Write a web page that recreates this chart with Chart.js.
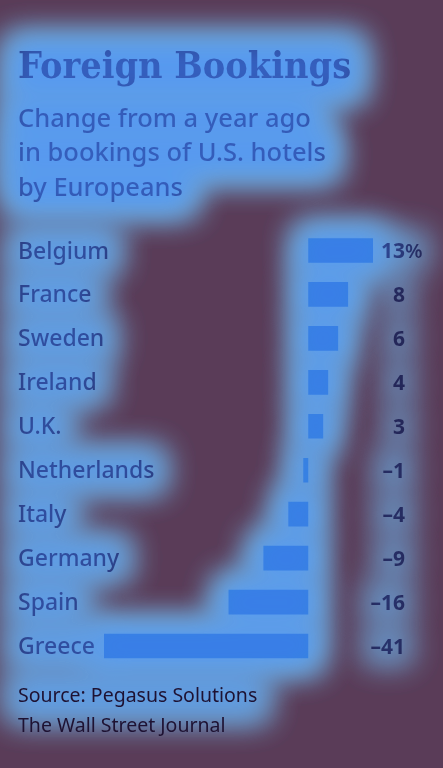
<!DOCTYPE html>
<html>
<head>
<meta charset="utf-8">
<script src="https://cdn.jsdelivr.net/npm/chart.js@4.4.1/dist/chart.umd.min.js"></script>
<style>
  html, body { margin: 0; padding: 0; background: #5a3c58; }
  #wrap { width: 443px; height: 768px; position: relative; }
</style>
</head>
<body>
<div id="wrap"><canvas id="chart-bookings"></canvas></div>
<script>
const countries = ['Belgium', 'France', 'Sweden', 'Ireland', 'U.K.', 'Netherlands', 'Italy', 'Germany', 'Spain', 'Greece']
const changes = [13, 8, 6, 4, 3, -1, -4, -9, -16, -41]
const titleText = 'Foreign Bookings'
const subtitleLines = ['Change from a year ago', 'in bookings of U.S. hotels', 'by Europeans']
const sourceLines = ['Source: Pegasus Solutions', 'The Wall Street Journal']

const INK = '#1e1232'
const BAR = '#318ad3'
const GLOW_UNDER = '#a2f6f2'
const GLOW_OVER = '#3d7aef'
const SANS = '"Noto Sans", "Open Sans", sans-serif'
const LABEL_FONT = '500 23px ' + SANS
const VALUE_FONT = 'bold 21px ' + SANS
const SOURCE_FONT = '19.5px ' + SANS

function fmt (v) {
  return v < 0 ? '\u2013' + Math.abs(v) : String(v)
}

// country names, left-aligned at the start of the y axis box
const countryLabels = {
  id: 'countryLabels',
  afterDatasetsDraw (chart) {
    const ctx = chart.ctx
    const ys = chart.scales.y
    ctx.save()
    ctx.font = LABEL_FONT
    ctx.fillStyle = INK
    ctx.textBaseline = 'middle'
    ctx.textAlign = 'left'
    countries.forEach((name, i) => ctx.fillText(name, ys.left, ys.getPixelForValue(i) + 1.5))
    ctx.restore()
  },
}

// value column on the right, first one carries the % sign
const valueLabels = {
  id: 'valueLabels',
  afterDatasetsDraw (chart) {
    const ctx = chart.ctx
    const x = chart.chartArea.right + 32
    ctx.save()
    ctx.font = VALUE_FONT
    ctx.fillStyle = INK
    ctx.textBaseline = 'middle'
    chart.getDatasetMeta(0).data.forEach((bar, i) => {
      ctx.textAlign = 'right'
      ctx.fillText(fmt(changes[i]), x, bar.y + 1.5)
      if (i === 0) {
        ctx.textAlign = 'left'
        ctx.font = '600 20px ' + SANS
        ctx.fillText('%', x, bar.y + 1.5)
        ctx.font = VALUE_FONT
      }
    })
    ctx.restore()
  },
}

const sourceNote = {
  id: 'sourceNote',
  afterDraw (chart) {
    const ctx = chart.ctx
    ctx.save()
    ctx.font = SOURCE_FONT
    ctx.fillStyle = INK
    ctx.textBaseline = 'middle'
    ctx.textAlign = 'left'
    sourceLines.forEach((line, i) => {
      ctx.fillText(line, chart.scales.y.left, chart.chartArea.bottom + 28 + i * 30)
    })
    ctx.restore()
  },
}

function buildGlowMask (chart) {
  const dpr = chart.currentDevicePixelRatio
  const mask = document.createElement('canvas')
  mask.width = chart.canvas.width
  mask.height = chart.canvas.height
  const o = mask.getContext('2d')
  o.scale(dpr, dpr)
  o.filter = 'blur(15px)'
  const box = (x1, y1, x2, y2, pad, alpha) => {
    o.globalAlpha = alpha
    o.fillStyle = '#fff'
    o.beginPath()
    o.roundRect(x1 - pad, y1 - pad, x2 - x1 + pad * 2, y2 - y1 + pad * 2, pad)
    o.fill()
  }

  // title + subtitle lines
  chart.boxes.filter(b => b.options && b.options.text !== undefined && b.options.display)
    .forEach(b => {
      const lines = [].concat(b.options.text)
      const f = Chart.helpers.toFont(b.options.font)
      const pad = Chart.helpers.toPadding(b.options.padding)
      o.font = f.string
      lines.forEach((line, i) => {
        const cy = b.top + pad.top + (i + 0.5) * f.lineHeight
        const w = o.measureText(line).width
        box(b.left, cy - f.size * 0.55, b.left + w, cy + f.size * 0.55, 14, 1)
      })
    })

  const ys = chart.scales.y
  const bars = chart.getDatasetMeta(0).data
  o.font = LABEL_FONT
  bars.forEach((bar, i) => {
    const x1 = Math.min(bar.x, bar.base)
    const x2 = Math.max(bar.x, bar.base)
    box(x1, bar.y - bar.height / 2, x2, bar.y + bar.height / 2, 15, 1)
    const w = o.measureText(countries[i]).width
    box(ys.left, bar.y - 12, ys.left + w, bar.y + 12, 11, 0.85)
  })

  o.font = VALUE_FONT
  const vx = chart.chartArea.right + 32
  bars.forEach((bar, i) => {
    const w = o.measureText(fmt(changes[i])).width
    box(vx - w, bar.y - 12, vx + (i === 0 ? 16 : 0), bar.y + 12, 7, 0.55)
  })

  o.font = SOURCE_FONT
  const sw = o.measureText(sourceLines[0]).width
  box(ys.left, chart.chartArea.bottom + 16, ys.left + sw, chart.chartArea.bottom + 42, 12, 0.8)
  return mask
}

function paintMask (chart, mask, color, alpha) {
  const tint = document.createElement('canvas')
  tint.width = mask.width
  tint.height = mask.height
  const t = tint.getContext('2d')
  t.drawImage(mask, 0, 0)
  t.globalCompositeOperation = 'source-in'
  t.fillStyle = color
  t.fillRect(0, 0, tint.width, tint.height)
  const ctx = chart.ctx
  ctx.save()
  ctx.globalAlpha = alpha
  ctx.drawImage(tint, 0, 0, chart.width, chart.height)
  ctx.restore()
}

// blue attention haze: a pale layer under everything, a blue tint over it
const glowOverlay = {
  id: 'glowOverlay',
  beforeDraw (chart) {
    chart.$glowMask = buildGlowMask(chart)
    paintMask(chart, chart.$glowMask, GLOW_UNDER, 1)
  },
  afterDraw (chart) {
    paintMask(chart, chart.$glowMask, GLOW_OVER, 0.75)
  },
}

new Chart(document.getElementById('chart-bookings'), {
  type: 'bar',
  data: {
    labels: countries,
    datasets: [{
      data: changes,
      backgroundColor: BAR,
      barPercentage: 0.56,
      categoryPercentage: 1,
    }],
  },
  options: {
    indexAxis: 'y',
    responsive: true,
    maintainAspectRatio: false,
    animation: false,
    layout: {
      padding: { left: 18, right: 70, top: 0, bottom: 100 },
    },
    scales: {
      x: {
        display: false,
        min: Math.min(...changes),
        max: Math.max(...changes),
      },
      y: {
        grid: { display: false },
        border: { display: false },
        ticks: { display: false },
        afterFit (scale) {
          scale.width = 86
        },
      },
    },
    plugins: {
      legend: { display: false },
      tooltip: { enabled: false },
      title: {
        display: true,
        align: 'start',
        text: titleText,
        color: INK,
        font: { family: '"DejaVu Serif Condensed", "DejaVu Serif", serif', size: 37.5, weight: 'bold', lineHeight: 1.2 },
        padding: { top: 46, bottom: 6 },
      },
      subtitle: {
        display: true,
        align: 'start',
        text: subtitleLines,
        color: INK,
        font: { family: SANS, size: 25.5, weight: '500', lineHeight: 1.353 },
        padding: { top: 5, bottom: 23 },
      },
    },
  },
  plugins: [glowOverlay, countryLabels, valueLabels, sourceNote],
})
</script>
</body>
</html>
